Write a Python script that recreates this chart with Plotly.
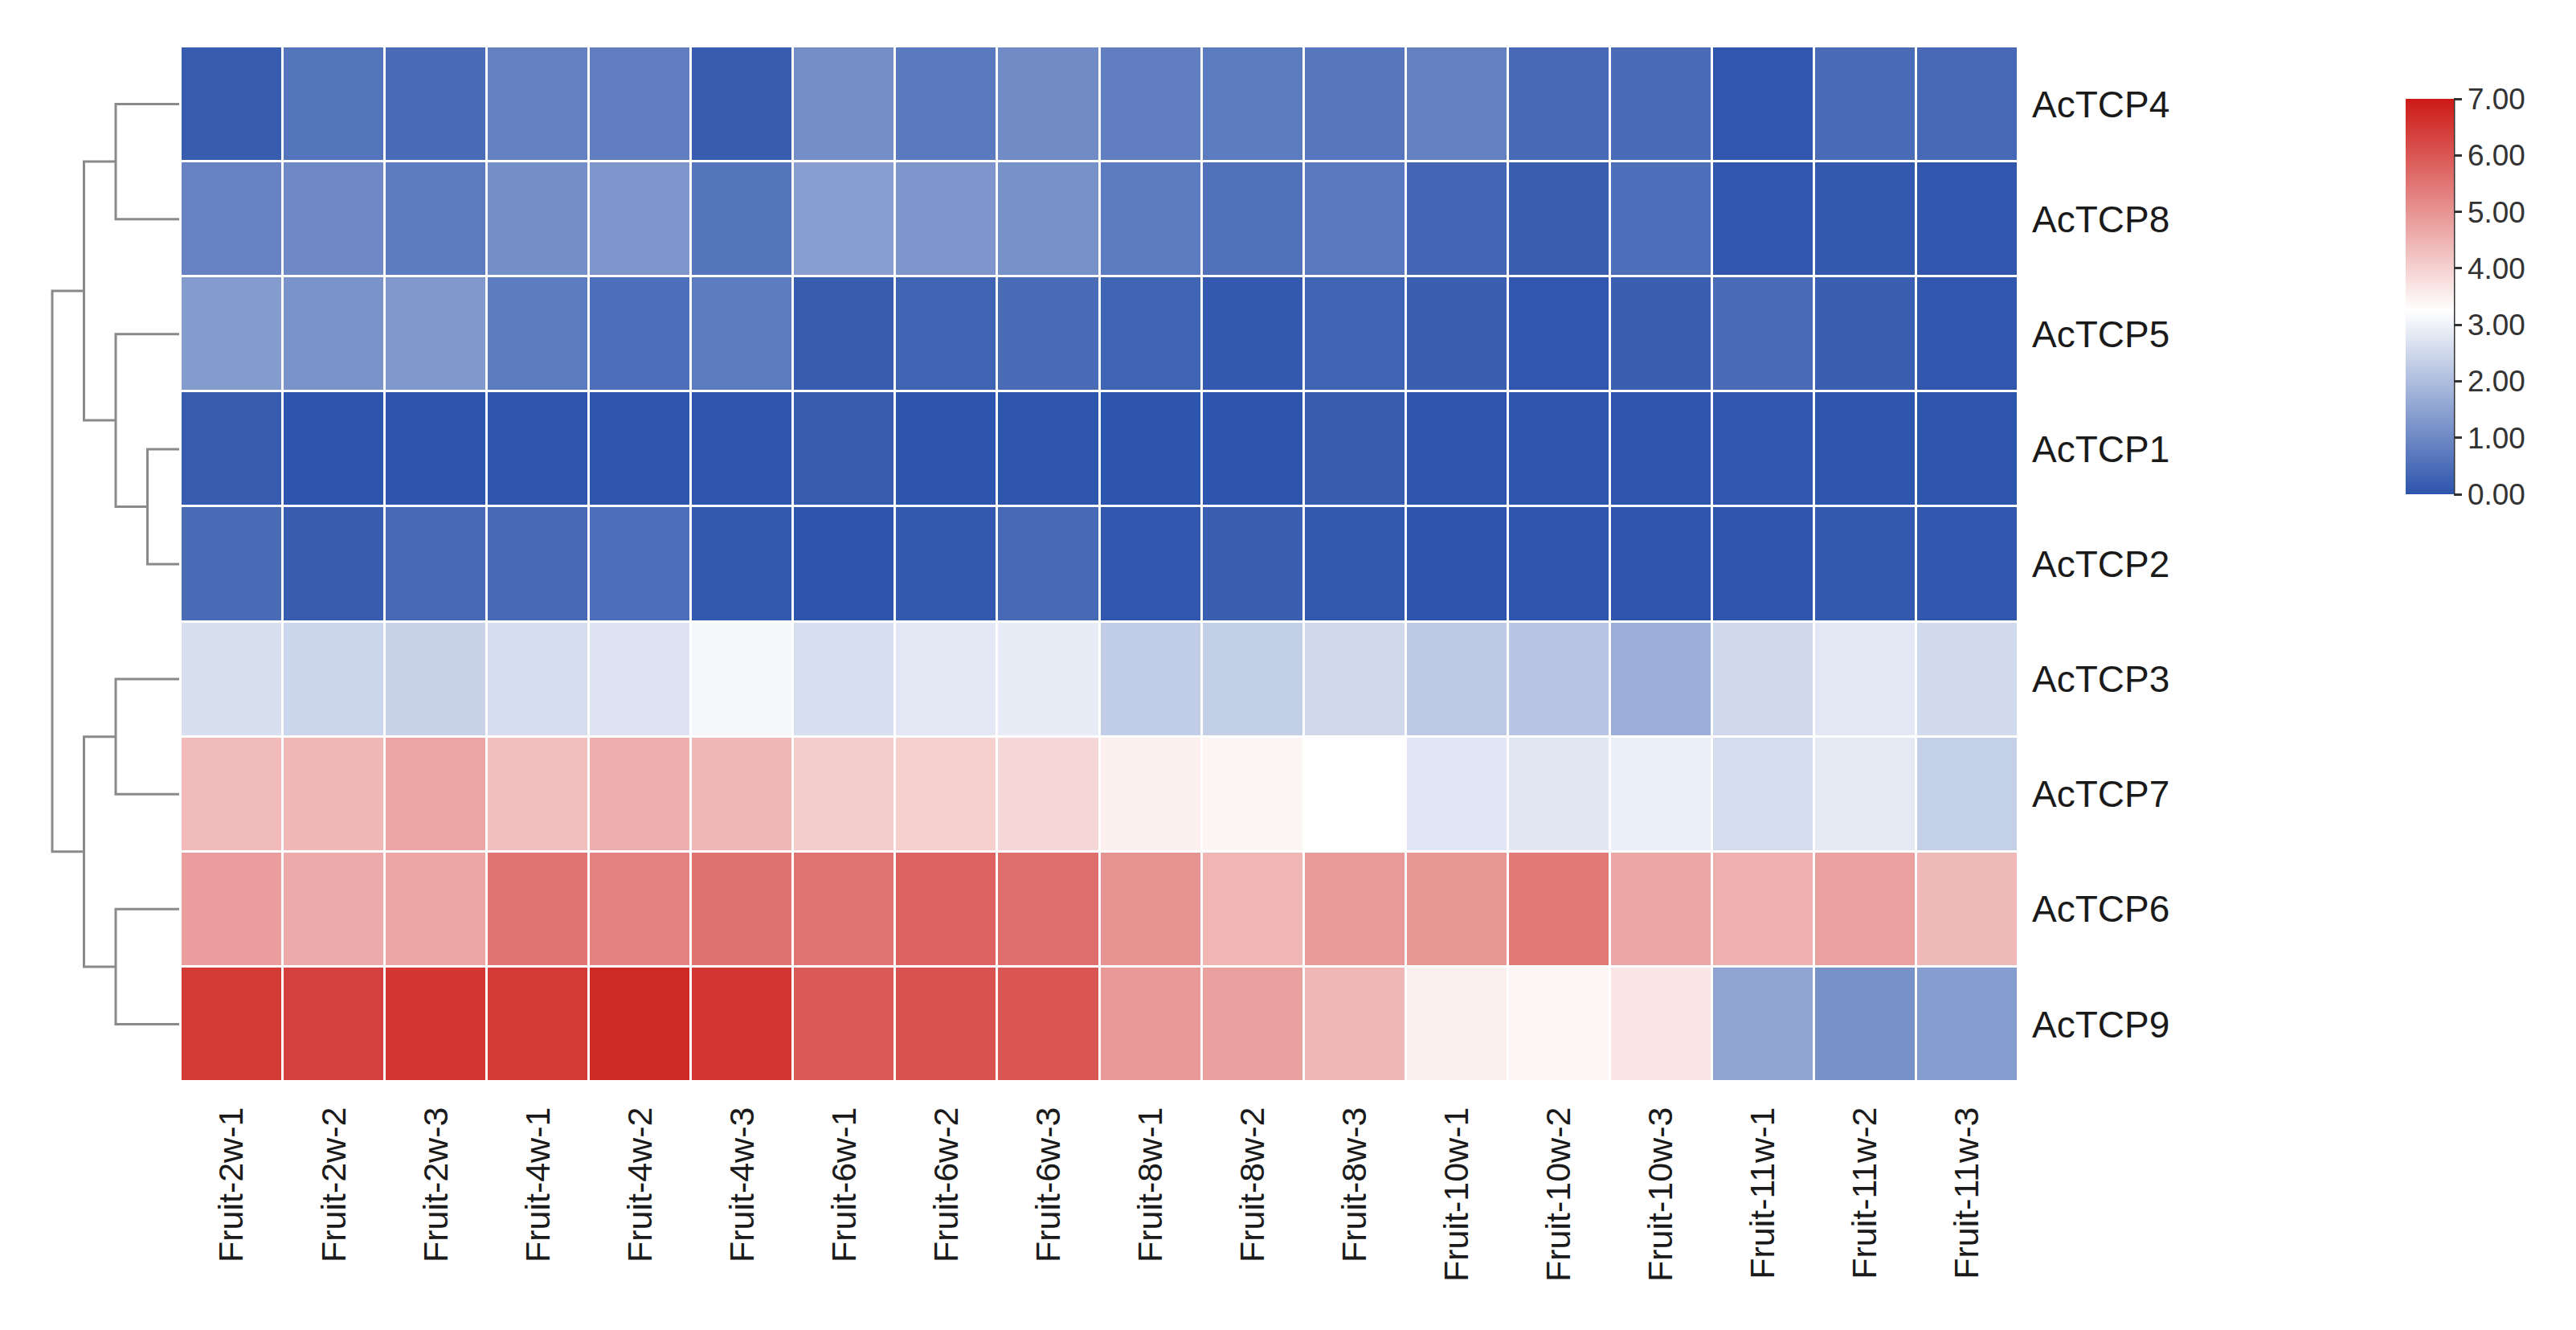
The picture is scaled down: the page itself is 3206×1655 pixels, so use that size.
import plotly.graph_objects as go

# ---------------- data ----------------
columns = ["Fruit-2w-1", "Fruit-2w-2", "Fruit-2w-3", "Fruit-4w-1", "Fruit-4w-2", "Fruit-4w-3",
           "Fruit-6w-1", "Fruit-6w-2", "Fruit-6w-3", "Fruit-8w-1", "Fruit-8w-2", "Fruit-8w-3",
           "Fruit-10w-1", "Fruit-10w-2", "Fruit-10w-3", "Fruit-11w-1", "Fruit-11w-2", "Fruit-11w-3"]
genes = ["AcTCP4", "AcTCP8", "AcTCP5", "AcTCP1", "AcTCP2", "AcTCP3", "AcTCP7", "AcTCP6", "AcTCP9"]

AcTCP4 = [0.15, 0.60, 0.45, 0.85, 0.80, 0.15, 1.10, 0.70, 1.05, 0.80, 0.75, 0.65, 0.85, 0.40, 0.45, 0.05, 0.45, 0.40]
AcTCP8 = [0.90, 1.00, 0.75, 1.10, 1.25, 0.60, 1.40, 1.25, 1.15, 0.75, 0.55, 0.70, 0.35, 0.20, 0.50, 0.05, 0.10, 0.05]
AcTCP5 = [1.35, 1.20, 1.30, 0.75, 0.50, 0.75, 0.15, 0.30, 0.45, 0.30, 0.10, 0.30, 0.20, 0.05, 0.20, 0.45, 0.20, 0.05]
AcTCP1 = [0.15, 0.02, 0.02, 0.03, 0.03, 0.03, 0.15, 0.02, 0.03, 0.02, 0.02, 0.15, 0.03, 0.03, 0.03, 0.05, 0.03, 0.03]
AcTCP2 = [0.45, 0.15, 0.40, 0.40, 0.50, 0.10, 0.02, 0.10, 0.40, 0.05, 0.20, 0.10, 0.02, 0.03, 0.03, 0.03, 0.10, 0.05]
AcTCP3 = [2.65, 2.45, 2.40, 2.58, 2.72, 3.10, 2.62, 2.82, 2.88, 2.30, 2.32, 2.52, 2.25, 2.17, 1.70, 2.52, 2.82, 2.55]
AcTCP7 = [4.36, 4.42, 4.72, 4.30, 4.56, 4.42, 4.08, 4.02, 3.90, 3.50, 3.42, 3.25, 2.77, 2.80, 2.93, 2.58, 2.83, 2.34]
AcTCP6 = [4.85, 4.62, 4.70, 5.52, 5.30, 5.58, 5.55, 5.80, 5.60, 5.02, 4.45, 4.88, 4.95, 5.45, 4.70, 4.55, 4.78, 4.40]
AcTCP9 = [6.48, 6.38, 6.52, 6.48, 6.76, 6.52, 5.95, 6.08, 6.02, 4.90, 4.80, 4.42, 3.50, 3.40, 3.66, 1.52, 1.15, 1.38]

# row clustering (child a, child b, merge height)
merges = [
    ("AcTCP1", "AcTCP2", 1.0),
    ("AcTCP4", "AcTCP8", 2.0),
    ("AcTCP5", "n0", 2.0),
    ("n1", "n2", 3.0),
    ("AcTCP3", "AcTCP7", 2.0),
    ("AcTCP6", "AcTCP9", 2.0),
    ("n4", "n5", 3.0),
    ("n3", "n6", 4.0),
]

colorbar_ticks = [0, 1, 2, 3, 4, 5, 6, 7]

# ---------------- layout (window pixel targets; page body has an 8px margin) ----------------
OFF = 8
W, H = 3206 - 2 * OFF, 1655 - 2 * OFF


def fx(px):
    return (px - OFF) / W


def fy(py):
    return 1 - (py - OFF) / H


hm_left, hm_right, hm_top, hm_bottom = 225, 2512, 58, 1346
dend_leaf_px, dend_unit_px = 223, 39.5
cb_left, cb_thick = 2994, 60
cb_top, cb_bot = 123, 615

z = [AcTCP4, AcTCP8, AcTCP5, AcTCP1, AcTCP2, AcTCP3, AcTCP7, AcTCP6, AcTCP9]

colorscale = [
    [0.0, "rgb(45,84,172)"],
    [0.464, "rgb(255,255,255)"],
    [1.0, "rgb(204,26,22)"],
]

font_family = "Arial, Liberation Sans, sans-serif"

fig = go.Figure()
fig.add_trace(go.Heatmap(
    z=z,
    x=list(range(len(columns))),
    y=list(range(len(genes))),
    zmin=0, zmax=7,
    colorscale=colorscale,
    xgap=3, ygap=3,
    colorbar=dict(
        x=fx(cb_left), xanchor="left", xpad=0,
        y=(fy(cb_top) + fy(cb_bot)) / 2, yanchor="middle", ypad=0,
        len=(cb_bot - cb_top) / H, lenmode="fraction",
        thickness=cb_thick, thicknessmode="pixels",
        outlinewidth=0,
        tickvals=colorbar_ticks,
        ticktext=[f"{v:.2f}" for v in colorbar_ticks],
        ticks="outside", ticklen=10, tickwidth=3, tickcolor="#333333",
        tickfont=dict(size=37, color="#333333", family=font_family),
    ),
    hoverongaps=False,
))

# dendrogram lines
pos = {g: (float(i), 0.0) for i, g in enumerate(genes)}
dx, dy = [], []
for k, (a, b, h) in enumerate(merges):
    ya, ha = pos[a]
    yb, hb = pos[b]
    dx += [ha, h, h, hb, None]
    dy += [ya, ya, yb, yb, None]
    pos[f"n{k}"] = ((ya + yb) / 2, h)

fig.add_trace(go.Scatter(
    x=dx, y=dy, xaxis="x2", yaxis="y", mode="lines",
    line=dict(color="#8a8a8a", width=3),
    hoverinfo="skip", showlegend=False,
))

fig.update_layout(
    width=W, height=H,
    margin=dict(l=0, r=0, t=0, b=0),
    paper_bgcolor="white", plot_bgcolor="white",
    font=dict(family=font_family, color="#1a1a1a"),
    xaxis=dict(
        domain=[fx(hm_left), fx(hm_right)],
        range=[-0.5, len(columns) - 0.5],
        tickvals=list(range(len(columns))), ticktext=columns,
        tickangle=-90, ticks="", showgrid=False, zeroline=False, showline=False,
        tickfont=dict(size=43, color="#1a1a1a"),
        ticklabelstandoff=22,
        anchor="y",
    ),
    yaxis=dict(
        domain=[fy(hm_bottom), fy(hm_top)],
        range=[len(genes) - 0.5, -0.5],
        tickvals=list(range(len(genes))), ticktext=genes,
        side="right", ticks="", showgrid=False, zeroline=False, showline=False,
        tickfont=dict(size=46, color="#1a1a1a"),
        ticklabelstandoff=16,
        anchor="x",
    ),
    xaxis2=dict(
        domain=[0, fx(dend_leaf_px)],
        range=[(dend_leaf_px - OFF) / dend_unit_px, 0],
        showticklabels=False, ticks="", showgrid=False, zeroline=False, showline=False,
        anchor="y",
    ),
)

# dark axis line on the right edge of the colour bar
cb_right = fx(cb_left + cb_thick)
fig.add_shape(type="line", xref="paper", yref="paper",
              x0=cb_right, x1=cb_right, y0=fy(cb_bot), y1=fy(cb_top),
              line=dict(color="#333333", width=3))

fig.write_html("out.html")
